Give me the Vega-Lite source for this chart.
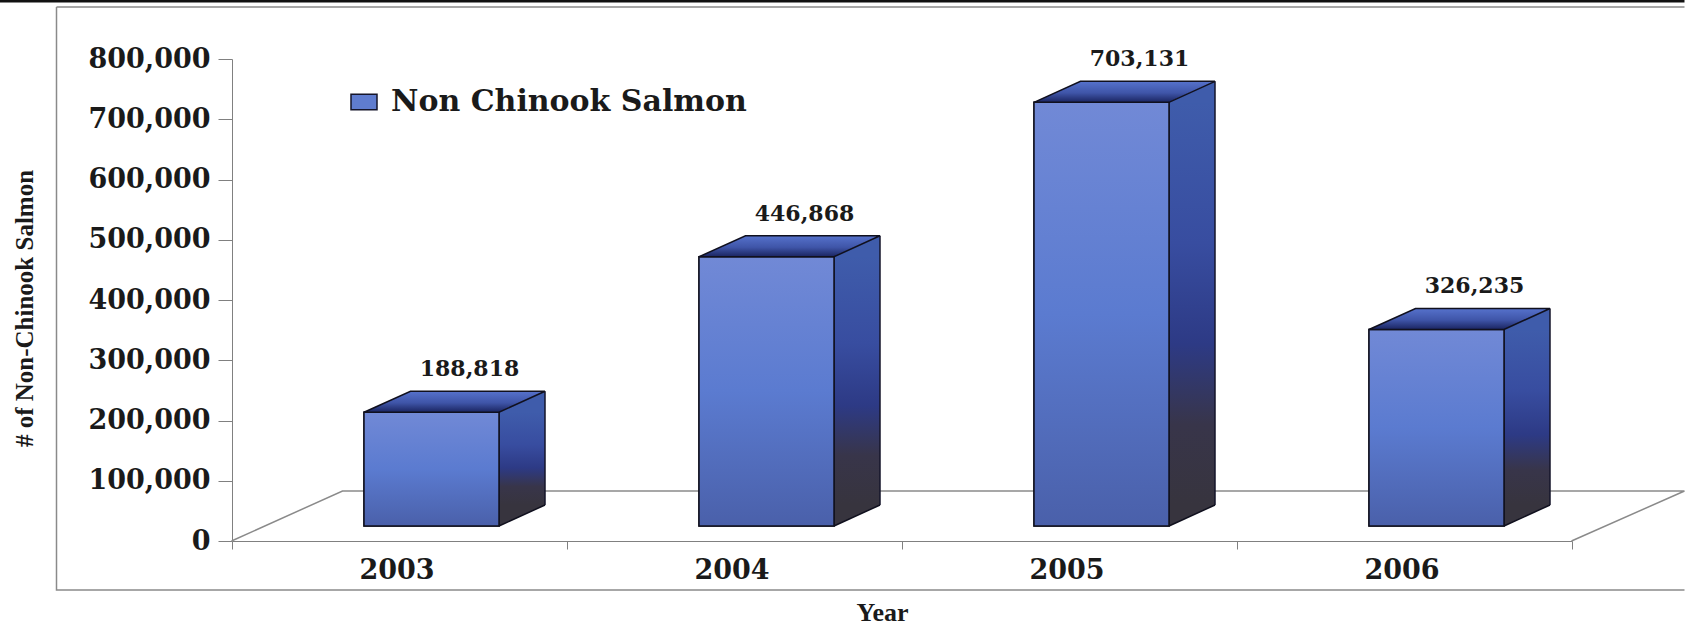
{
"$schema":"https://vega.github.io/schema/vega-lite/v6.json",
"autosize":"none","width":1340,"height":482,
"padding":{"left":232,"top":59,"right":113,"bottom":83},
"background":"white",
"config":{"view":{"stroke":null}},
"data":{"values":[
{"year":"2003","value":188818,"series":"Non Chinook Salmon"},
{"year":"2004","value":446868,"series":"Non Chinook Salmon"},
{"year":"2005","value":703131,"series":"Non Chinook Salmon"},
{"year":"2006","value":326235,"series":"Non Chinook Salmon"}]},
"encoding":{
"x":{"field":"year","type":"nominal","scale":{"type":"band","paddingInner":0,"paddingOuter":0},
"axis":{"title":"Year","tickBand":"extent","labelAngle":0,"domainColor":"#808080","tickColor":"#808080","tickSize":8,"labelPadding":8,"labelFont":"DejaVu Serif","labelFontWeight":"bold","labelFontSize":27,"labelColor":"#1a1a1a","labelOffset":-3,"titleFont":"Liberation Serif","titleFontWeight":"bold","titleFontSize":26,"titleColor":"#1a1a1a","titleX":650,"titleY":71,"titleBaseline":"middle"}},
"y":{"field":"value","type":"quantitative","scale":{"domain":[0,800000]},
"axis":{"title":"# of Non-Chinook Salmon","values":[0,100000,200000,300000,400000,500000,600000,700000,800000],"labelExpr":"format(datum.value, ',')","grid":false,"domainColor":"#808080","tickColor":"#808080","tickSize":14,"labelPadding":8,"labelFont":"DejaVu Serif","labelFontWeight":"bold","labelFontSize":27,"labelColor":"#1a1a1a","titleFont":"Liberation Serif","titleFontWeight":"bold","titleFontSize":25,"titleColor":"#1a1a1a","titleX":-208,"titleY":249,"titleBaseline":"middle"}}
},
"layer":[
{"transform":[{"filter":"datum.year=='2003'"}],"mark":{"type":"point","size":4,"shape":"M-343,-534L1285,-534M-343,-534L-343,49L1285,49","filled":false,"stroke":"#8a8a8a","strokeWidth":1.5,"opacity":1},"encoding":{"y":{"datum":0,"type":"quantitative"}}},
{"transform":[{"filter":"datum.year=='2003'"}],"mark":{"type":"point","size":4,"shape":"M-400,-540L1285,-540","filled":false,"stroke":"#111111","strokeWidth":3,"opacity":1},"encoding":{"y":{"datum":0,"type":"quantitative"}}},
{"transform":[{"filter":"datum.year=='2003'"}],"mark":{"type":"point","size":4,"shape":"M-168,0L-57,-50L1285,-50M1172,0L1285,-50","filled":false,"stroke":"#8a8a8a","strokeWidth":1.5,"opacity":1},"encoding":{"y":{"datum":0,"type":"quantitative"}}},
{"mark":{"type":"bar","width":46,"xOffset":122.5,"yOffset":-15,"y2Offset":-36,"fill":{"x1":0,"y1":0,"x2":0,"y2":1,"gradient":"linear","stops":[{"offset":0,"color":"#3f5cab"},{"offset":0.35,"color":"#384da0"},{"offset":0.6,"color":"#2d3a85"},{"offset":0.8,"color":"#38354a"},{"offset":1,"color":"#37343e"}]}},"encoding":{"y2":{"datum":0}}},
{"mark":{"type":"point","size":4,"filled":true,"shape":"M0,0L46,-21L46,1L0,1Z","fill":"#3f5cab","opacity":1,"xOffset":99.5,"yOffset":-15}},
{"mark":{"type":"point","size":4,"filled":true,"shape":"M0,0L46,-21L46,-22L0,-22Z","fill":"#37343e","opacity":1,"xOffset":99.5,"yOffset":-15},"encoding":{"y":{"datum":0,"type":"quantitative"}}},
{"mark":{"type":"rule","stroke":"#15152a","strokeWidth":1.5,"xOffset":145.5,"yOffset":-36,"y2Offset":-36},"encoding":{"y2":{"datum":0}}},
{"mark":{"type":"bar","width":135,"xOffset":32,"yOffset":-15,"y2Offset":-15,"stroke":"#10101e","strokeWidth":1.5},"encoding":{"y2":{"datum":0},"color":{"field":"series","type":"nominal","scale":{"range":["#5f7ccf"]},"legend":{"title":null,"orient":"none","legendX":117,"legendY":28,"symbolType":"M-1,-0.6L1,-0.6L1,0.6L-1,0.6Z","symbolSize":676,"symbolStrokeColor":"#15152a","symbolStrokeWidth":1.5,"labelFont":"DejaVu Serif","labelFontWeight":"bold","labelFontSize":30,"labelColor":"#1a1a1a","labelLimit":500,"labelOffset":12}}}},
{"mark":{"type":"bar","width":135,"xOffset":32,"yOffset":-15,"y2Offset":-15,"stroke":"#10101e","strokeWidth":1.5,"fill":{"x1":0,"y1":0,"x2":0,"y2":1,"gradient":"linear","stops":[{"offset":0,"color":"#7189d6"},{"offset":0.5,"color":"#5b7bd0"},{"offset":1,"color":"#4a60aa"}]}},"encoding":{"y2":{"datum":0}}},
{"mark":{"type":"point","size":4,"filled":true,"shape":"M-67.5,0L-21,-21L113.5,-21L67.5,0Z","fill":{"x1":0,"y1":0,"x2":0,"y2":1,"gradient":"linear","stops":[{"offset":0,"color":"#5672cc"},{"offset":0.55,"color":"#3f55a8"},{"offset":1,"color":"#1a2460"}]},"stroke":"#10101e","strokeWidth":1.5,"opacity":1,"xOffset":32,"yOffset":-15}},
{"mark":{"type":"point","size":4,"filled":false,"shape":"M0,0L46,-21","stroke":"#10101e","strokeWidth":1.5,"opacity":1,"xOffset":99.5,"yOffset":-15},"encoding":{"y":{"datum":0,"type":"quantitative"}}},
{"mark":{"type":"text","font":"DejaVu Serif","fontWeight":"bold","fontSize":22,"color":"#1a1a1a","dx":70,"dy":-58,"baseline":"middle"},"encoding":{"text":{"field":"value","type":"quantitative","format":","}}}
]
}
